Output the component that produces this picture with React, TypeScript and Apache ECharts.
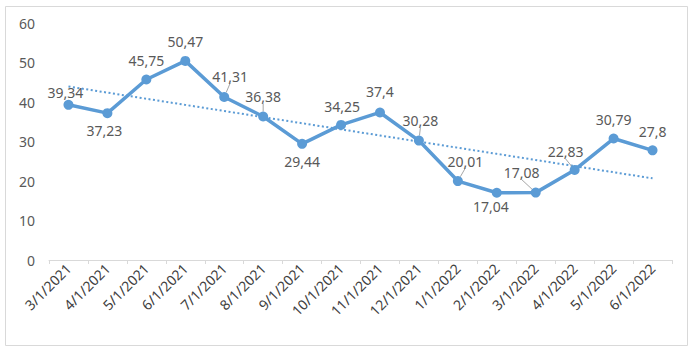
import React, { useEffect, useRef } from "react";
import * as echarts from "echarts";

const categories = [
  "3/1/2021", "4/1/2021", "5/1/2021", "6/1/2021", "7/1/2021", "8/1/2021",
  "9/1/2021", "10/1/2021", "11/1/2021", "12/1/2021", "1/1/2022", "2/1/2022",
  "3/1/2022", "4/1/2022", "5/1/2022", "6/1/2022",
];
const values = [
  39.34, 37.23, 45.75, 50.47, 41.31, 36.38, 29.44, 34.25, 37.4, 30.28,
  20.01, 17.04, 17.08, 22.83, 30.79, 27.8,
];
const yTicks = [0, 10, 20, 30, 40, 50, 60];

// label offsets (dx, dy) relative to the point, and whether a leader line is shown
const labelDx = [-3, -3, 0, 0, 6, 0, 0, 1, 0, 1.5, 7.5, -6, -14, -9, 0, 0];
const labelDy = [-12.5, 17, -19, -19.5, -21, -20, 18, -18.5, -21, -20, -20, 14, -20, -18, -19, -19];
const leader = [false, false, false, false, true, true, false, false, false, true, true, false, true, true, false, false];

function linearTrend(ys: number[]): number[] {
  const n = ys.length;
  const mx = (n - 1) / 2;
  const my = ys.reduce((a, b) => a + b, 0) / n;
  let sxy = 0;
  let sxx = 0;
  ys.forEach((y, i) => {
    sxy += (i - mx) * (y - my);
    sxx += (i - mx) * (i - mx);
  });
  const slope = sxy / sxx;
  return ys.map((_, i) => my + slope * (i - mx));
}

export default function App() {
  const ref = useRef<HTMLDivElement>(null);
  useEffect(() => {
    document.body.style.margin = "0";
    if (!ref.current) return;
    const chart = echarts.init(ref.current, undefined, { renderer: "svg" });
    const trend = linearTrend(values);
    const font = "'Noto Sans', sans-serif";
    chart.setOption({
      animation: false,
      backgroundColor: "#ffffff",
      textStyle: { fontFamily: font },
      graphic: [
        {
          type: "rect",
          shape: { x: 5.5, y: 6.5, width: 682, height: 339 },
          style: { fill: "none", stroke: "#d9d9d9", lineWidth: 1 },
          silent: true,
        },
      ],
      grid: { left: 49, right: 23, top: 23.3, bottom: 93, containLabel: false },
      xAxis: {
        type: "category",
        data: categories,
        boundaryGap: true,
        axisLine: { show: true, lineStyle: { color: "#d9d9d9", width: 1 } },
        axisTick: { show: true, length: 4, lineStyle: { color: "#d9d9d9" } },
        axisLabel: {
          interval: 0,
          rotate: 45,
          margin: 6,
          fontSize: 14,
          color: "#404040",
          fontFamily: font,
        },
        splitLine: { show: false },
      },
      yAxis: {
        type: "value",
        min: yTicks[0],
        max: yTicks[yTicks.length - 1],
        interval: 10,
        axisLine: { show: false },
        axisTick: { show: false },
        splitLine: { show: false },
        axisLabel: { margin: 14, fontSize: 14, color: "#595959", fontFamily: font },
      },
      series: [
        {
          name: "Trend",
          type: "line",
          data: trend,
          symbol: "none",
          silent: true,
          z: 1,
          lineStyle: { color: "#5b9bd5", width: 2, type: [2, 2.5] },
        },
        {
          name: "Value",
          type: "line",
          z: 2,
          data: values.map((v, i) => ({
            value: v,
            labelLine: { show: leader[i] },
          })),
          symbol: "circle",
          symbolSize: 10,
          itemStyle: { color: "#5b9bd5" },
          lineStyle: { color: "#5b9bd5", width: 3.5 },
          label: {
            show: true,
            position: "top",
            fontSize: 14,
            color: "#595959",
            fontFamily: font,
            formatter: (p: any) => String(p.value).replace(".", ","),
          },
          labelLine: {
            show: false,
            lineStyle: { color: "#a6a6a6", width: 1 },
          },
          labelLayout: (params: any) => {
            const r = params.rect;
            const cx = r.x + r.width / 2;
            const cy = r.y + r.height / 2;
            const i = params.dataIndex;
            return {
              x: cx + labelDx[i],
              y: cy + labelDy[i],
              align: "center",
              verticalAlign: "middle",
            };
          },
        },
      ],
    });
    return () => chart.dispose();
  }, []);
  return <div ref={ref} style={{ width: 695, height: 353 }} />;
}
